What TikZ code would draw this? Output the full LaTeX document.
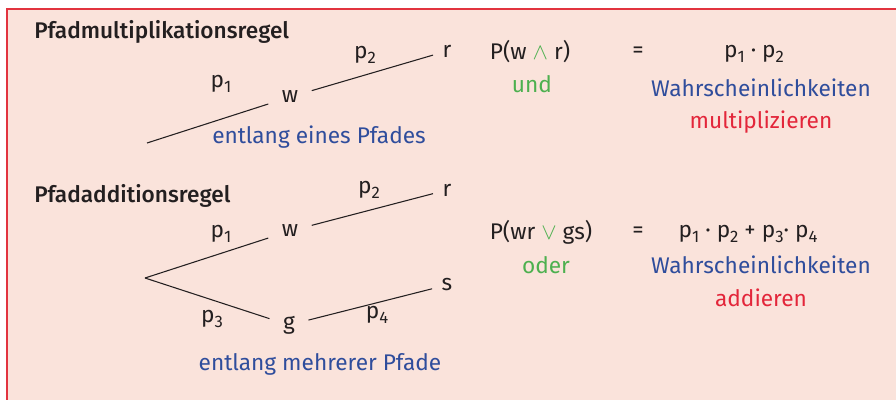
\documentclass[tikz,border=0pt]{standalone}
\usepackage{fontspec}
\setmainfont{Fira Sans}[BoldFont={Fira Sans Medium}]
\usetikzlibrary{positioning}
\definecolor{ink}{HTML}{231F20}
\definecolor{wash}{HTML}{FAE3DB}
\definecolor{frame}{HTML}{E2343F}
\definecolor{pathblue}{HTML}{2F4D9C}
\definecolor{logicgreen}{HTML}{4DB04F}
\definecolor{opred}{HTML}{E3263A}
\newcommand{\ix}[1]{\raisebox{-0.45ex}{\fontsize{12.5}{12.5}\selectfont #1}}
\tikzset{
  font=\fontsize{17}{20}\selectfont,
  %
  txt/.style={text=ink, inner sep=0pt},
  head/.style={txt, font=\fontsize{17}{20}\selectfont\bfseries, anchor=base west},
  knot/.style={txt, inner xsep=10pt, inner ysep=2pt},
  leaf/.style={txt, inner xsep=7pt, inner ysep=2pt},
  %
  branch/.style={draw=ink, line width=0.8pt},
  %
  along/.style={txt, text=pathblue},
  logic/.style={txt, text=logicgreen},
  rule/.style={txt, text=opred},
}

\begin{document}
\begin{tikzpicture}[x=0.75pt, y=-0.75pt]

\useasboundingbox (0,0) rectangle (896,400);
\fill[white] (0,0) rectangle (896,400);
\fill[wash] (7,9) rectangle (896,400);
\draw[frame, line width=1.1pt] (896,9) -- (7,9) -- (7,400);

% ------------------------------------------------------ multiplication
\begin{scope}
  \node[head] (t1) at (34,38) {Pfadmultiplikationsregel};

  \coordinate (o1) at (147,143);
  \node[knot] (w1) at (290,97) {w};
  \node[leaf] (r1) at (447,51) {r};
  \draw[branch] (o1) -- (w1);
  \draw[branch] (w1) -- (r1);

  \node[txt] (p11) at (221,84) {p\ix{1}};
  \node[txt] (p12) at (365,55) {p\ix{2}};
  \node[along] (e1) at (319,137) {entlang eines Pfades};

  \node[txt] (P1) at (530,52) {P(w {\color{logicgreen}$\wedge$} r)};
  \node[logic] (und) at (532,84) {und};
  \node[txt] (eq1) at (638,52) {=};
  \node[txt] (f1) at (754,54) {p\ix{1} · p\ix{2}};
  \node[along] (W1) at (761,88) {Wahrscheinlichkeiten};
  \node[rule] (mul) at (761,122) {multiplizieren};
\end{scope}

% ------------------------------------------------------------ addition
\begin{scope}
  \node[head] (t2) at (34,202) {Pfadadditionsregel};

  \coordinate (o2) at (145,278);
  \node[knot] (w2) at (290,231) {w};
  \node[leaf] (r2) at (447,190) {r};
  \node[knot] (g2) at (289,325) {g};
  \node[leaf] (s2) at (447,285) {s};
  \draw[branch] (o2) -- (w2);
  \draw[branch] (w2) -- (r2);
  \draw[branch] (o2) -- (g2);
  \draw[branch] (g2) -- (s2);

  \node[txt] (p21) at (221,234) {p\ix{1}};
  \node[txt] (p22) at (369,190) {p\ix{2}};
  \node[txt] (p23) at (212,319) {p\ix{3}};
  \node[txt] (p24) at (377,315) {p\ix{4}};
  \node[along] (e2) at (320,364) {entlang mehrerer Pfade};

  \node[txt] (P2) at (541,232) {P(wr {\color{logicgreen}$\vee$} gs)};
  \node[logic] (oder) at (546,265) {oder};
  \node[txt] (eq2) at (638,232) {=};
  \node[txt] (f2) at (748,234) {p\ix{1} · p\ix{2} + p\ix{3}· p\ix{4}};
  \node[along] (W2) at (761,265) {Wahrscheinlichkeiten};
  \node[rule] (add) at (761,298) {addieren};
\end{scope}

\end{tikzpicture}
\end{document}
